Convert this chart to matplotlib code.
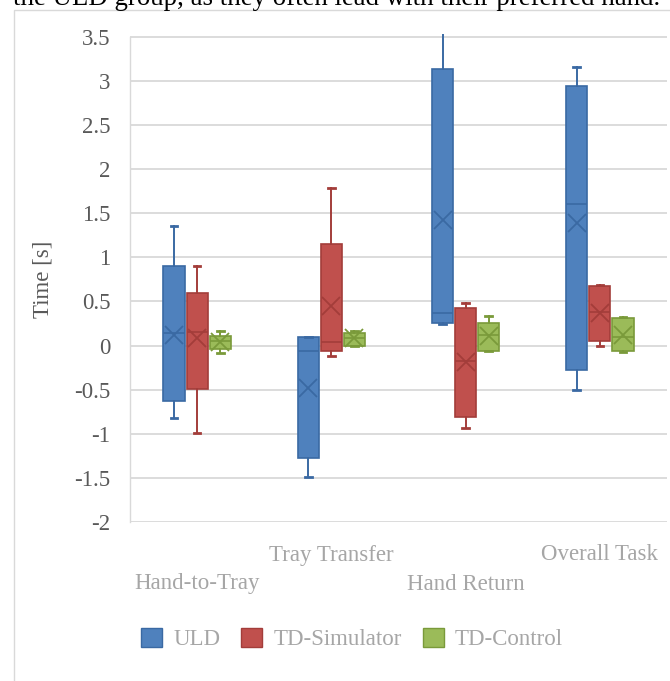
import matplotlib
matplotlib.use("Agg")
import matplotlib.pyplot as plt
from matplotlib.patches import Patch, Rectangle

# ---- data -------------------------------------------------------------
categories = ["Hand-to-Tray", "Tray Transfer", "Hand Return", "Overall Task"]
groups = ["ULD", "TD-Simulator", "TD-Control"]

uld_whislo = [-0.82, -1.49, 0.24, -0.50]
uld_q1     = [-0.63, -1.27, 0.25, -0.28]
uld_med    = [0.14, -0.06, 0.37, 1.60]
uld_q3     = [0.90, 0.10, 3.13, 2.94]
uld_whishi = [1.35, 0.10, 3.80, 3.16]
uld_mean   = [0.12, -0.48, 1.42, 1.39]

sim_whislo = [-0.99, -0.12, -0.93, 0.00]
sim_q1     = [-0.49, -0.06, -0.81, 0.05]
sim_med    = [0.15, 0.04, -0.18, 0.38]
sim_q3     = [0.60, 1.15, 0.43, 0.67]
sim_whishi = [0.90, 1.79, 0.48, 0.69]
sim_mean   = [0.09, 0.45, -0.19, 0.37]

ctl_whislo = [-0.08, 0.00, -0.06, -0.07]
ctl_q1     = [-0.04, 0.00, -0.06, -0.06]
ctl_med    = [0.05, 0.08, 0.12, 0.10]
ctl_q3     = [0.11, 0.14, 0.26, 0.31]
ctl_whishi = [0.16, 0.16, 0.34, 0.32]
ctl_mean   = [0.04, 0.08, 0.11, 0.12]

ytick_values = [-2, -1.5, -1, -0.5, 0, 0.5, 1, 1.5, 2, 2.5, 3, 3.5]
ytick_labels = ["-2", "-1.5", "-1", "-0.5", "0", "0.5", "1", "1.5", "2", "2.5", "3", "3.5"]

caption = "the ULD group, as they often lead with their preferred hand."

# ---- styling ----------------------------------------------------------
fills = ["#4F81BD", "#C0504D", "#9BBB59"]
edges = ["#3A69A3", "#A33D3A", "#7A9A3A"]
offsets = [-0.172, 0.0, 0.172]
box_w = 0.157
serif = ["Liberation Serif", "DejaVu Serif"]
fs = 16.5

plt.rcParams["font.family"] = serif

W, H = 670, 681
fig = plt.figure(figsize=(W / 100, H / 100), dpi=100)
ax = fig.add_axes([130 / W, 1 - 522 / H, 537 / W, (522 - 34) / H])

series = [
    (uld_whislo, uld_q1, uld_med, uld_q3, uld_whishi, uld_mean),
    (sim_whislo, sim_q1, sim_med, sim_q3, sim_whishi, sim_mean),
    (ctl_whislo, ctl_q1, ctl_med, ctl_q3, ctl_whishi, ctl_mean),
]

for g, (wlo, q1, med, q3, whi, mean) in enumerate(series):
    stats = []
    for i in range(len(categories)):
        stats.append(dict(whislo=wlo[i], q1=q1[i], med=med[i], q3=q3[i],
                          whishi=whi[i], mean=mean[i], fliers=[]))
    pos = [i + 0.5 + offsets[g] for i in range(len(categories))]
    ax.bxp(stats, positions=pos, widths=box_w, patch_artist=True,
           showmeans=True, showfliers=False, capwidths=0.05,
           boxprops=dict(facecolor=fills[g], edgecolor=edges[g], linewidth=1.2),
           medianprops=dict(color=edges[g], linewidth=1.2),
           whiskerprops=dict(color=edges[g], linewidth=1.4),
           capprops=dict(color=edges[g], linewidth=2.0),
           meanprops=dict(marker="x", markeredgecolor=edges[g],
                          markersize=13, markeredgewidth=1.3),
           manage_ticks=False, zorder=3)

ax.set_xlim(0, len(categories))
ax.set_ylim(-2, 3.53)
ax.set_yticks(ytick_values)
ax.set_yticklabels(ytick_labels, fontsize=fs, color="#595959")
ax.tick_params(axis="y", length=0, pad=14)
ax.set_xticks([])
ax.grid(axis="y", color="#D9D9D9", linewidth=1.3, zorder=0)
ax.set_axisbelow(True)
for side in ["top", "right", "bottom"]:
    ax.spines[side].set_visible(False)
ax.spines["left"].set_color("#D9D9D9")
ax.spines["left"].set_linewidth(1.0)
ax.spines["left"].set_bounds(-2, 3.5)

ax.set_ylabel("Time [s]", fontsize=fs, color="#595959")
ax.yaxis.set_label_coords((54 - 130) / 537, 0.497)

# staggered category labels
ax_h = 522 - 34
for i, cat in enumerate(categories):
    ypix = 555 if i % 2 else 584
    ax.text(i + 0.5, (522 - ypix) / ax_h, cat, transform=ax.get_xaxis_transform(),
            ha="center", va="center", fontsize=fs, color="#A6A6A6", clip_on=False)

# legend
handles = [Patch(facecolor=fills[g], edgecolor=edges[g], linewidth=1.0, label=groups[g])
           for g in range(3)]
fig.legend(handles=handles, loc="center", bbox_to_anchor=(352 / W, 1 - 639 / H),
           ncol=3, frameon=False, fontsize=fs, handlelength=0.92, handleheight=0.92,
           handletextpad=0.48, columnspacing=0.92, labelcolor="#A6A6A6")

# chart-area border (extends past the right and bottom edges)
fig.patches.append(Rectangle((13.5 / W, -0.1), 2.0, 1 - 9.5 / H + 0.1,
                             transform=fig.transFigure, fill=False,
                             edgecolor="#D9D9D9", linewidth=1.0))

# running text line above the chart, partly cut off at the top
cap = fig.text(13 / W, 1 - 5 / H, caption, ha="left", va="baseline",
               fontsize=20, color="black", family=serif)
fig.canvas.draw()
width_px = cap.get_window_extent().width
cap.set_fontsize(20 * (649 / width_px))

fig.savefig("out.png", dpi=100)
